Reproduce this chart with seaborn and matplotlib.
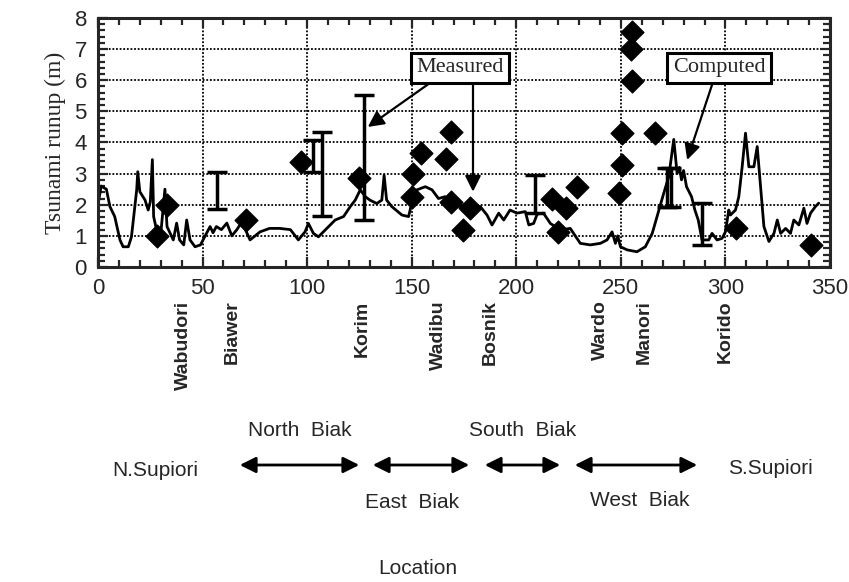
import matplotlib
matplotlib.use("Agg")
import matplotlib.pyplot as plt
import matplotlib.ticker as mticker
import seaborn as sns
import pandas as pd

# computed runup along the coast
comp_x = [0, 1.5, 4, 5.7, 8, 10.5, 12, 14.5, 16, 18.5, 19, 20, 22.5, 24, 25, 26, 26.6, 28, 30, 32, 33,
          36, 37.6, 39, 41, 42.4, 44, 46.4, 49, 51, 53.6, 55, 56.6, 59, 61.6, 64, 66.4, 68.8, 72.7, 77.5,
          82, 87, 92, 95.8, 99, 100.6, 103, 105.4, 109.4, 113.4, 117.4, 120.6, 123, 125.4, 127.8, 130,
          133.3, 135.7, 136.8, 138, 140.5, 145.3, 148.5, 150, 152.5, 156.5, 159.7, 162.8, 166, 169.2,
          171.6, 175.6, 178.8, 182.8, 186, 188.4, 191.6, 194, 197, 200.3, 204.3, 206, 208.3, 210, 213,
          216.3, 221, 225.8, 227.4, 230.6, 235.4, 240.2, 243.4, 245.8, 247.4, 248.5, 249.8, 253, 257.7,
          261.7, 265, 267.3, 270.5, 272.9, 275.3, 276.9, 278, 279, 280, 281.4, 283.8, 285.4, 287, 288.8,
          292, 293.6, 296, 298.4, 300, 301.6, 302.4, 304.8, 306.4, 308, 309.6, 311.2, 313.6, 315.2,
          316.8, 318.4, 320.8, 323.2, 324.8, 326.4, 328.8, 331.1, 332.7, 335.1, 337.5, 339, 340.7, 343,
          344.6]
comp_y = [2.0, 2.6, 2.5, 1.94, 1.62, 0.87, 0.65, 0.65, 0.97, 2.48, 3.06, 2.42, 2.15, 1.83, 2.1, 3.45, 1.62,
          1.19, 1.06, 2.5, 1.3, 0.87, 1.41, 0.87, 0.71, 1.51, 0.87, 0.65, 0.71, 0.97, 1.3, 1.1, 1.3, 1.2,
          1.41, 1.0, 1.2, 1.45, 0.87, 1.13, 1.24, 1.24, 1.2, 0.87, 1.13, 1.4, 1.08, 0.97, 1.24, 1.51, 1.62,
          1.94, 2.15, 2.48, 2.26, 2.15, 2.04, 2.15, 2.95, 2.15, 1.94, 1.67, 1.62, 2.05, 2.48, 2.58, 2.48,
          2.2, 2.26, 2.05, 1.94, 2.0, 1.88, 1.94, 1.67, 1.35, 1.73, 1.51, 1.83, 1.73, 1.78, 1.35, 1.4, 1.7,
          1.73, 1.4, 1.19, 1.24, 1.08, 0.76, 0.71, 0.76, 0.87, 1.13, 0.76, 1.0, 0.65, 0.55, 0.49, 0.65,
          1.08, 1.62, 2.37, 2.9, 4.1, 3.0, 3.2, 2.8, 3.1, 2.58, 2.26, 1.83, 1.51, 0.87, 0.87, 1.08, 0.87,
          0.92, 1.13, 1.83, 1.67, 1.83, 2.26, 3.22, 4.3, 3.22, 3.22, 3.87, 2.58, 1.3, 0.82, 1.08, 1.51,
          1.08, 1.24, 1.08, 1.51, 1.35, 1.89, 1.4, 1.73, 1.94, 2.05]

# measured point values
meas_x = [28, 33, 71, 97, 125, 150, 150.6, 154.5, 166.5, 169, 169, 178, 174.5, 217, 224, 220, 229,
          255.4, 255, 255.4, 250.6, 266.5, 250.6, 249, 305, 340.7]
meas_y = [1.0, 2.0, 1.5, 3.37, 2.85, 2.26, 3.0, 3.65, 3.46, 4.35, 2.1, 1.89, 1.19, 2.2, 1.89, 1.13, 2.58,
          7.55, 7.0, 5.96, 4.3, 4.3, 3.28, 2.39, 1.26, 0.71]

# measured ranges
bar_x = [57, 103, 107, 127, 209, 272, 274, 289]
bar_lo = [1.85, 3.05, 1.64, 1.5, 1.73, 1.94, 1.94, 0.71]
bar_hi = [3.05, 4.08, 4.35, 5.53, 2.96, 3.17, 3.17, 2.05]

places = ["Wabudori", "Biawer", "Korim", "Wadibu", "Bosnik", "Wardo", "Manori", "Korido"]
place_x = [40.7, 64.1, 126.3, 162.7, 187.6, 240.2, 261.2, 300]

sns.set_style("ticks")
sans = ["Liberation Sans", "DejaVu Sans"]
serif = ["Liberation Serif", "DejaVu Serif"]
plt.rcParams["font.family"] = sans

fig = plt.figure(figsize=(8.49, 5.82), dpi=100)
ax = fig.add_axes([98 / 849, 1 - 267 / 582, 732 / 849, 249 / 582])

comp = pd.DataFrame({"x": comp_x, "y": comp_y})
sns.lineplot(data=comp, x="x", y="y", ax=ax, color="black", lw=2, sort=False, estimator=None)

for bx, lo, hi in zip(bar_x, bar_lo, bar_hi):
    mid = (lo + hi) / 2
    ax.errorbar(bx, mid, yerr=[[mid - lo], [hi - mid]], fmt="none", ecolor="black",
                elinewidth=2.5, capsize=7.5, capthick=2.5)

meas = pd.DataFrame({"x": meas_x, "y": meas_y})
sns.scatterplot(data=meas, x="x", y="y", ax=ax, marker="D", s=135, color="black",
                edgecolor="black", zorder=5)

ax.set_xlim(0, 350)
ax.set_ylim(0, 8)
ax.xaxis.set_major_locator(mticker.MultipleLocator(50))
ax.xaxis.set_minor_locator(mticker.MultipleLocator(10))
ax.yaxis.set_major_locator(mticker.MultipleLocator(1))
ax.yaxis.set_minor_locator(mticker.MultipleLocator(0.2))
ax.grid(True, which="major", color="black", linestyle=(0, (1, 1)), lw=1.3)
ax.tick_params(which="both", direction="in", top=True, right=True, width=1.6)
ax.tick_params(which="major", length=7, labelsize=16, pad=8)
ax.tick_params(which="minor", length=5)
for s in ax.spines.values():
    s.set_linewidth(2.2)
ax.set_xlabel("")
ax.set_ylabel("Tsunami runup (m)", fontsize=17, family=serif, labelpad=6)

box = dict(boxstyle="square,pad=0.25", fc="white", ec="black", lw=2.2)
arr = dict(arrowstyle="-|>", color="black", lw=1.6, mutation_scale=24, shrinkA=0, shrinkB=0)
ax.annotate("Measured", xy=(129, 4.5), xytext=(173, 6.4), ha="center", va="center",
            fontsize=16, family=serif, bbox=box,
            arrowprops=dict(arr, relpos=(0.25, 0)))
ax.annotate("", xy=(179.3, 2.42), xytext=(179.3, 5.85), arrowprops=arr)
ax.annotate("Computed", xy=(281.7, 3.44), xytext=(297, 6.4), ha="center", va="center",
            fontsize=16, family=serif, bbox=box,
            arrowprops=dict(arr, relpos=(0.45, 0)))

for name, px in zip(places, place_x):
    ax.text(px, -0.135, name, transform=ax.get_xaxis_transform(), rotation=90,
            ha="center", va="top", fontsize=14, fontweight="bold", clip_on=False)


def ftext(x, y, s, **kw):
    fig.text(x / 849, 1 - y / 582, s, ha="center", va="center", fontsize=15, **kw)


ftext(300, 430, "North  Biak")
ftext(523, 430, "South  Biak")
ftext(155, 470, "N.Supiori")
ftext(770, 468, "S.Supiori")
ftext(412, 503, "East  Biak")
ftext(640, 500, "West  Biak")
ftext(418, 568, "Location")

for x0, x1 in [(237, 362), (370, 472), (482, 563), (572, 700)]:
    fig.add_artist(matplotlib.patches.FancyArrowPatch(
        (x0 / 849, 1 - 465 / 582), (x1 / 849, 1 - 465 / 582), transform=fig.transFigure,
        arrowstyle="<|-|>", mutation_scale=24, color="black", lw=2))

fig.savefig("out.png", dpi=100)
